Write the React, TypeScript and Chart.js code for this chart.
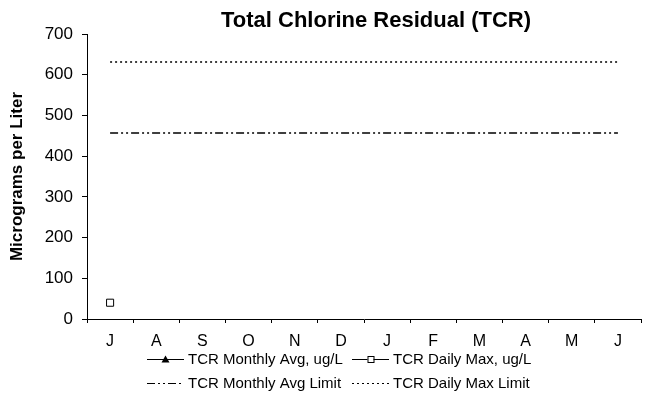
import React, { useEffect, useRef } from "react";
import { Chart, registerables } from "chart.js";

Chart.register(...registerables);

const months = ["J", "A", "S", "O", "N", "D", "J", "F", "M", "A", "M", "J"];
const monthlyAvg = [null, null, null, null, null, null, null, null, null, null, null, null];
const dailyMax = [40, null, null, null, null, null, null, null, null, null, null, null];
const monthlyAvgLimit = [457, 457, 457, 457, 457, 457, 457, 457, 457, 457, 457, 457];
const dailyMaxLimit = [631, 631, 631, 631, 631, 631, 631, 631, 631, 631, 631, 631];
const yMin = 0;
const yMax = 700;
const yStep = 100;

const titleText = "Total Chlorine Residual (TCR)";
const yTitleText = "Micrograms per Liter";
const FONT = "Arial, 'Liberation Sans', sans-serif";

const decorPlugin = {
  id: "decor",
  afterDraw(chart: any) {
    const ctx = chart.ctx;
    const area = chart.chartArea;
    ctx.save();
    ctx.fillStyle = "#000";
    // title
    ctx.font = `bold 22px ${FONT}`;
    ctx.textAlign = "center";
    ctx.textBaseline = "middle";
    ctx.fillText(titleText, (area.left + area.right) / 2 + 12, 21);
    // y title
    ctx.save();
    ctx.translate(17, (area.top + area.bottom) / 2);
    ctx.rotate(-Math.PI / 2);
    ctx.font = `bold 17px ${FONT}`;
    ctx.fillText(yTitleText, 0, 0);
    ctx.restore();

    // legend
    const ds = chart.data.datasets;
    const cols = [147, 352];
    const rows = [359, 383];
    const lineLen = 37;
    ctx.font = `15px ${FONT}`;
    ctx.textAlign = "left";
    ds.forEach((d: any, i: number) => {
      const x = cols[i % 2];
      const y = rows[Math.floor(i / 2)];
      ctx.save();
      ctx.strokeStyle = d.borderColor;
      ctx.lineWidth = 1;
      ctx.setLineDash(d.borderDash || []);
      ctx.beginPath();
      ctx.moveTo(x, y + 0.5);
      ctx.lineTo(x + lineLen, y + 0.5);
      ctx.stroke();
      ctx.setLineDash([]);
      const cx = x + lineLen / 2;
      if (d.pointStyle === "triangle") {
        ctx.fillStyle = "#000";
        ctx.beginPath();
        ctx.moveTo(cx, y - 3.5);
        ctx.lineTo(cx + 4, y + 3.5);
        ctx.lineTo(cx - 4, y + 3.5);
        ctx.closePath();
        ctx.fill();
      } else if (d.pointStyle === "rect") {
        ctx.fillStyle = "#fff";
        ctx.lineWidth = 1;
        ctx.fillRect(cx - 3, y - 3, 6, 6);
        ctx.strokeRect(cx - 3 + 0.5, y - 3 + 0.5, 6, 6);
      }
      ctx.restore();
      ctx.fillStyle = "#000";
      ctx.textBaseline = "middle";
      ctx.fillText(d.label, x + lineLen + 4, y + 1);
    });
    ctx.restore();
  },
};

export default function App() {
  const ref = useRef<HTMLCanvasElement | null>(null);
  useEffect(() => {
    if (!ref.current) return;
    const chart = new Chart(ref.current, {
      type: "line",
      data: {
        labels: months,
        datasets: [
          {
            label: "TCR Monthly Avg, ug/L",
            data: monthlyAvg,
            borderColor: "#000",
            backgroundColor: "#000",
            borderWidth: 1,
            pointStyle: "triangle",
            pointRadius: 4,
          },
          {
            label: "TCR Daily Max, ug/L",
            data: dailyMax,
            borderColor: "#000",
            backgroundColor: "#fff",
            borderWidth: 1,
            pointStyle: "rect",
            pointRadius: 5,
            pointBorderWidth: 1,
          },
          {
            label: "TCR Monthly Avg Limit",
            data: monthlyAvgLimit,
            borderColor: "#000",
            borderWidth: 1.5,
            borderDash: [8, 3, 2, 3, 2, 3],
            pointRadius: 0,
          },
          {
            label: "TCR Daily Max Limit",
            data: dailyMaxLimit,
            borderColor: "#000",
            borderWidth: 1.5,
            borderDash: [2, 3],
            pointRadius: 0,
          },
        ] as any,
      },
      options: {
        responsive: false,
        animation: false,
        devicePixelRatio: 1,
        layout: { padding: { top: 34, left: 0, right: 0, bottom: 0 } },
        plugins: {
          legend: { display: false },
          title: { display: false },
          tooltip: { enabled: false },
        },
        scales: {
          x: {
            offset: true,
            grid: { offset: true, drawOnChartArea: false, tickLength: 4, color: "#000" },
            border: { color: "#000", width: 1 },
            ticks: { color: "#000", font: { family: FONT, size: 16 }, padding: 9, maxRotation: 0, autoSkip: false },
            afterFit(s: any) {
              s.height = 84;
            },
          },
          y: {
            min: yMin,
            max: yMax,
            ticks: { stepSize: yStep, color: "#000", font: { family: FONT, size: 17 }, padding: 9 },
            grid: { drawOnChartArea: false, tickLength: 5, color: "#000" },
            border: { color: "#000", width: 1 },
            afterFit(s: any) {
              s.width = 87;
            },
          },
        },
      } as any,
      plugins: [decorPlugin],
    });
    return () => chart.destroy();
  }, []);
  return (
    <div style={{ position: "absolute", left: 0, top: 0, width: 647, height: 403 }}>
      <canvas ref={ref} width={647} height={403} />
    </div>
  );
}
